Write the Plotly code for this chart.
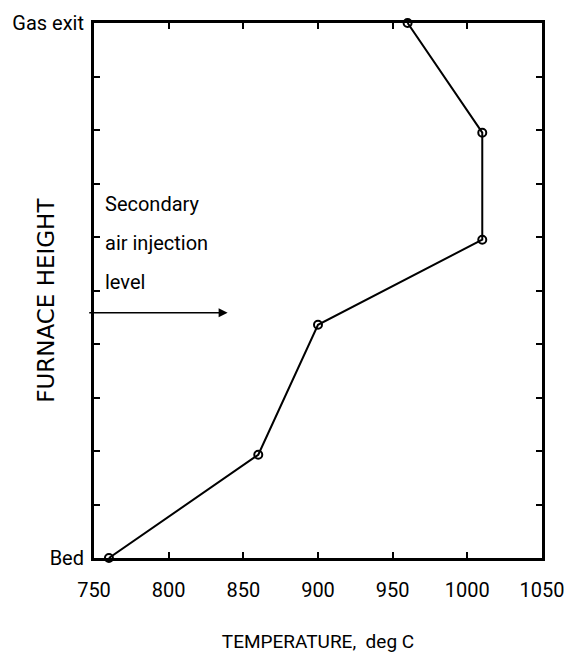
import plotly.graph_objects as go

# Data
temperature = [760, 860, 900, 1010, 1010, 960]
height = [0, 1.93, 4.36, 5.95, 7.95, 10]
y_tick_vals = list(range(0, 11))
y_tick_text = ["Bed"] + [""] * 9 + ["Gas exit"]
x_tick_vals = [750, 800, 850, 900, 950, 1000, 1050]
note_lines = ["Secondary", "air injection", "level"]

NARROW = "Roboto, Liberation Sans, sans-serif"
WIDE = "DejaVu Sans, Verdana, sans-serif"

fig = go.Figure()
fig.add_trace(go.Scatter(
    x=temperature, y=height, mode="lines+markers",
    line=dict(color="black", width=2),
    marker=dict(symbol="circle-open", size=8, color="black", line=dict(width=2)),
    cliponaxis=False, showlegend=False,
))

annotations = []
# arrow for secondary air injection level
annotations.append(dict(
    x=839.5, y=4.585, ax=745.8, ay=4.585, xref="x", yref="y", axref="x", ayref="y",
    showarrow=True, arrowhead=2, arrowsize=1.2, arrowwidth=1.5, arrowcolor="black", text="",
))
note_y = [6.62, 5.89, 5.16]
for line, yy in zip(note_lines, note_y):
    annotations.append(dict(
        x=755.8, y=yy, xref="x", yref="y", text=line, showarrow=False,
        xanchor="left", yanchor="middle",
        font=dict(family=NARROW, size=20, color="black"),
    ))
# y axis title
annotations.append(dict(
    x=-0.109, y=0.481, xref="paper", yref="paper", text="FURNACE HEIGHT",
    showarrow=False, textangle=-90, xanchor="center", yanchor="middle",
    font=dict(family=WIDE, size=23, color="black"),
))

fig.update_layout(
    width=566, height=660,
    margin=dict(l=94, r=24, t=23, b=102),
    paper_bgcolor="white", plot_bgcolor="white",
    annotations=annotations,
    xaxis=dict(
        range=[750, 1050], tickvals=x_tick_vals,
        ticks="inside", ticklen=6, tickwidth=2, tickcolor="black",
        showline=True, linecolor="black", linewidth=3, mirror="ticks",
        showgrid=False, zeroline=False, automargin=False,
        tickfont=dict(family=NARROW, size=20, color="black"),
        ticklabelstandoff=12,
        title=dict(text="TEMPERATURE,  deg C", font=dict(family=NARROW, size=19, color="black"), standoff=34),
    ),
    yaxis=dict(
        range=[0, 10], tickvals=y_tick_vals, ticktext=y_tick_text,
        ticks="inside", ticklen=6, tickwidth=2, tickcolor="black",
        showline=True, linecolor="black", linewidth=3, mirror="ticks",
        showgrid=False, zeroline=False, automargin=False,
        tickfont=dict(family=NARROW, size=20, color="black"),
        ticklabelstandoff=3,
    ),
)

# remove the page's default 8px body margin so the 566x660 figure fills the window exactly
fig.write_html(
    "out.html",
    config={"displayModeBar": False},
    post_script="document.body.style.margin='0';document.body.style.overflow='hidden';",
)
